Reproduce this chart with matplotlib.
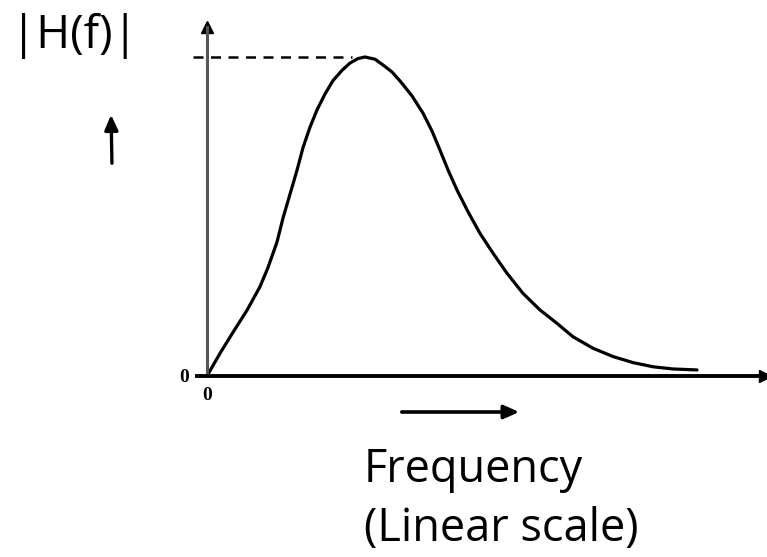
import matplotlib
matplotlib.use("Agg")
import matplotlib.pyplot as plt
from matplotlib.patches import FancyArrowPatch

# Magnitude response |H(f)| of a band-pass type system (normalised, peak = 1)
freq = [0.00, 0.13, 0.26, 0.40, 0.53, 0.61, 0.70, 0.76, 0.83, 0.90, 0.96,
        1.03, 1.10, 1.18, 1.26, 1.35, 1.43, 1.51, 1.58, 1.68, 1.76, 1.85,
        1.93, 2.05, 2.16, 2.25, 2.33, 2.41, 2.50, 2.61, 2.73, 2.86, 3.00,
        3.16, 3.33, 3.50, 3.66, 3.86, 4.06, 4.26, 4.46, 4.66, 4.90]
mag = [0.000, 0.071, 0.137, 0.206, 0.280, 0.340, 0.420, 0.495, 0.570, 0.645,
       0.716, 0.780, 0.834, 0.884, 0.926, 0.958, 0.981, 0.995, 1.000, 0.993,
       0.975, 0.953, 0.925, 0.878, 0.824, 0.768, 0.708, 0.646, 0.583, 0.515,
       0.447, 0.385, 0.322, 0.259, 0.207, 0.165, 0.123, 0.087, 0.061, 0.042,
       0.029, 0.022, 0.019]
peak_freq = 1.45
peak_mag = 1.0
tick_vals = [0]
tick_labels = ["0"]

W, H = 767, 557
fig = plt.figure(figsize=(W / 100, H / 100), dpi=100)


def fx(px):
    return px / W


def fy(py):
    return 1 - py / H


ax = fig.add_axes([fx(207), fy(376), (765 - 207) / W, (376 - 27) / H])
ax.set_xlim(0, 5.58)
ax.set_ylim(0, 1.094)

for s in ("top", "right"):
    ax.spines[s].set_visible(False)
ax.spines["left"].set_color("#555555")
ax.spines["left"].set_linewidth(2.2)
ax.spines["bottom"].set_color("black")
ax.spines["bottom"].set_linewidth(2.8)
ax.spines["bottom"].set_bounds(-0.1, 5.58)
ax.spines["bottom"].set_clip_on(False)

# arrow heads on the axes
ax.plot([0], [1.094], marker="^", markersize=8, color="black", clip_on=False)
ax.plot([5.58], [0], marker=">", markersize=8, color="black", clip_on=False)

serif = {"family": "Liberation Serif", "weight": "bold", "size": 14}
ax.set_xticks(tick_vals)
ax.set_xticklabels(tick_labels, fontdict=serif)
ax.set_yticks(tick_vals)
ax.set_yticklabels(tick_labels, fontdict=serif)
ax.tick_params(axis="x", length=0, pad=8)
ax.tick_params(axis="y", length=5, width=1.5, color="#555555", pad=8)

# response curve
ax.plot(freq, mag, color="black", linewidth=2.3, solid_capstyle="round",
        solid_joinstyle="round")

# dashed marker of the peak level
ax.plot([-0.14, peak_freq], [peak_mag, peak_mag], color="black",
        linewidth=1.8, linestyle=(0, (4, 3)), clip_on=False)

# labels
sans = ["Open Sans", "DejaVu Sans"]
fig.text(fx(11), fy(48), "|H(f)|", fontsize=33, family=sans, ha="left",
         va="baseline")
fig.text(fx(364), fy(482), "Frequency", fontsize=32.5, family=sans,
         ha="left", va="baseline")
fig.text(fx(364), fy(541), "(Linear scale)", fontsize=32.5, family=sans,
         ha="left", va="baseline")

# direction arrows next to the labels
fig.add_artist(FancyArrowPatch(
    (fx(112), fy(166)), (fx(111), fy(112)), transform=fig.transFigure,
    arrowstyle="-|>,head_length=0.45,head_width=0.2", color="black",
    linewidth=2.4, mutation_scale=20))
fig.add_artist(FancyArrowPatch(
    (fx(399), fy(412)), (fx(522), fy(412)), transform=fig.transFigure,
    arrowstyle="-|>,head_length=0.45,head_width=0.2", color="black",
    linewidth=2.6, mutation_scale=20))

fig.savefig("out.png", dpi=100)
